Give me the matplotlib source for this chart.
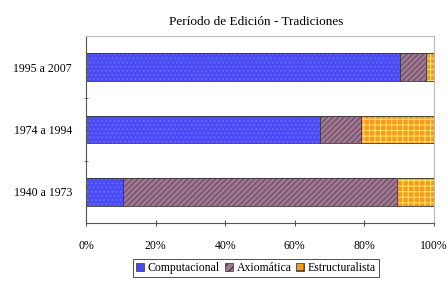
import numpy as np
import matplotlib
matplotlib.use("Agg")
import matplotlib.pyplot as plt
from matplotlib.patches import Patch

# data (shares per period)
periods = ["1940 a 1973", "1974 a 1994", "1995 a 2007"]
computacional = [0.107, 0.672, 0.902]
axiomatica = [0.786, 0.118, 0.075]
estructuralista = [0.107, 0.210, 0.023]
series_names = ["Computacional", "Axiomática", "Estructuralista"]

plt.rcParams['font.family'] = ['Liberation Serif', 'DejaVu Serif']
plt.rcParams['hatch.linewidth'] = 0.8

fig = plt.figure(figsize=(4.48, 2.86), dpi=100)
ax = fig.add_axes([86 / 448, 1 - 223 / 286, 348 / 448, 187 / 286])

y = np.arange(len(periods))
h = 0.44
series = [computacional, axiomatica, estructuralista]
faces = ["#4B4BF5", "#A07890", "#F59A1E"]
hatches = ["....", "//////", "+++"]
hatch_cols = ["#6A6AFF", "#6B4A66", "#FFE060"]

left = np.zeros(len(periods))
for vals, fc, ht, hc in zip(series, faces, hatches, hatch_cols):
    vals = np.array(vals)
    ax.barh(y, vals, left=left, height=h, color=fc, hatch=ht,
            edgecolor=hc, linewidth=0)
    ax.barh(y, vals, left=left, height=h, fill=False,
            edgecolor="#333333", linewidth=0.6)
    left += vals

ax.set_xlim(0, 1)
ax.set_ylim(-0.5, 2.5)
ax.set_xticks(np.linspace(0, 1, 6))
ax.set_xticklabels(["0%", "20%", "40%", "60%", "80%", "100%"], fontsize=8.5)
ax.set_yticks(y)
ax.set_yticklabels(periods, fontsize=8.5)
ax.set_yticks([0.5, 1.5], minor=True)
ax.tick_params(axis='y', which='major', length=0, pad=10)
ax.tick_params(axis='y', which='minor', length=3, direction='inout', color="#555555")
ax.tick_params(axis='x', length=4, direction='inout', pad=10, color="#555555")

for s in ["top", "right"]:
    ax.spines[s].set_color("#BBBBBB")
    ax.spines[s].set_linewidth(0.8)
for s in ["left", "bottom"]:
    ax.spines[s].set_color("#555555")
    ax.spines[s].set_linewidth(0.8)

fig.text(256 / 448, 1 - 22 / 286, "Período de Edición - Tradiciones",
         ha='center', va='center', fontsize=9.5)

handles = [Patch(facecolor=fc, edgecolor="#333333", hatch=ht, linewidth=0.5)
           for fc, ht in zip(faces, ["", "////", "++"])]
leg = ax.legend(handles, series_names, loc='center', ncol=3,
                bbox_to_anchor=(256 / 448, 1 - 268 / 286),
                bbox_transform=fig.transFigure, fontsize=8.5,
                frameon=True, fancybox=False, handlelength=0.7, handleheight=0.7,
                handletextpad=0.3, columnspacing=0.4, borderpad=0.25)
leg.get_frame().set_edgecolor("#222222")
leg.get_frame().set_linewidth(0.7)

fig.savefig("out.png", dpi=100)
